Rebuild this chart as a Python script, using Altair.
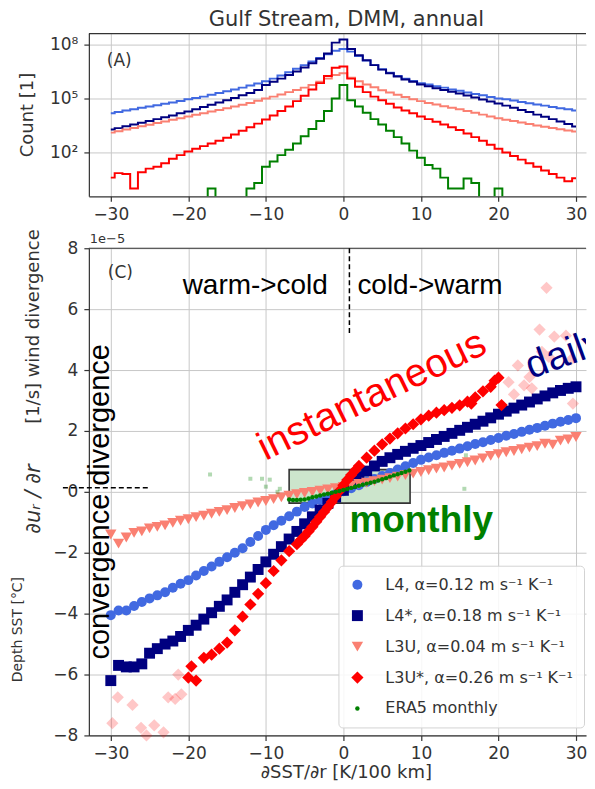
import altair as alt
import pandas as pd

# ---------------- data: panel (A) histograms (log10 of counts), bins -30..30 ----------------
HX = list(range(-30, 31))
hist_L4 = [4.17, 4.25, 4.33, 4.40, 4.48, 4.55, 4.62, 4.70, 4.78, 4.86,
           4.95, 5.03, 5.10, 5.20, 5.30, 5.40, 5.50, 5.60, 5.72, 5.83,
           5.95, 6.10, 6.28, 6.45, 6.65, 6.85, 7.05, 7.25, 7.45, 7.65,
           7.75,
           7.60, 7.35, 7.10, 6.85, 6.62, 6.42, 6.25, 6.10, 5.97, 5.85,
           5.77, 5.68, 5.60, 5.50, 5.42, 5.33, 5.25, 5.17, 5.08, 5.00,
           4.95, 4.88, 4.80, 4.73, 4.66, 4.60, 4.52, 4.46, 4.40, 4.33]
hist_L4s = [3.28, 3.35, 3.45, 3.55, 3.65, 3.75, 3.85, 3.95, 4.05, 4.17,
            4.28, 4.40, 4.52, 4.65, 4.78, 4.90, 5.03, 5.17, 5.30, 5.47,
            5.75, 5.92, 6.10, 6.30, 6.50, 6.72, 6.95, 7.20, 7.50, 8.10,
            8.28,
            7.75, 7.40, 7.12, 6.85, 6.60, 6.40, 6.22, 6.05, 5.92, 5.78,
            5.68, 5.57, 5.47, 5.37, 5.27, 5.16, 5.05, 4.94, 4.83, 4.72,
            4.60, 4.48, 4.36, 4.24, 4.10, 3.98, 3.85, 3.72, 3.58, 3.44]
hist_L3U = [3.10, 3.18, 3.27, 3.36, 3.45, 3.54, 3.63, 3.72, 3.81, 3.90,
            4.00, 4.09, 4.18, 4.27, 4.36, 4.45, 4.55, 4.65, 4.75, 4.87,
            5.00, 5.10, 5.22, 5.35, 5.47, 5.60, 5.75, 5.92, 6.10, 6.30,
            6.40,
            6.15, 5.95, 5.78, 5.62, 5.45, 5.33, 5.20, 5.08, 4.96, 4.85,
            4.75, 4.66, 4.57, 4.48, 4.40, 4.30, 4.20, 4.10, 4.00, 3.90,
            3.82, 3.74, 3.66, 3.58, 3.50, 3.43, 3.36, 3.29, 3.22, 3.16]
hist_L3Us = [0.60, 0.85, 0.80, 0.00, 0.90, 1.10, 1.20, 1.40, 1.65, 1.85,
             2.05, 2.20, 2.35, 2.50, 2.65, 2.82, 3.00, 3.20, 3.40, 3.60,
             3.83, 4.05, 4.30, 4.55, 4.85, 5.15, 5.50, 5.85, 6.25, 6.70,
             6.78,
             6.10, 5.65, 5.35, 5.10, 4.90, 4.70, 4.50, 4.33, 4.17, 4.00,
             3.85, 3.70, 3.55, 3.40, 3.25, 3.05, 2.85, 2.65, 2.42, 2.20,
             2.00, 1.80, 1.60, 1.40, 1.20, 1.00, 0.80, 0.60, 0.40, 0.56]
hist_ERA5 = [None, None, None, None, None, None, None, None, None, None,
             None, None, None, 0.00, None, None, None, None, 0.00, 0.30,
             1.20, 1.50, 1.85, 2.15, 2.50, 2.90, 3.30, 3.75, 4.30, 5.00,
             5.75,
             4.90, 4.55, 4.20, 3.85, 3.55, 3.20, 2.85, 2.50, 2.10, 1.70,
             1.30, 1.10, 0.60, 0.00, 0.00, 0.55, 0.30, None, None, 0.00,
             None, None, None, None, None, None, None, None, None, None]

# ---------------- data: panel (C) binned wind divergence (units of 1e-5 1/s) ----------------
SX = list(range(-30, 31))
div_L4 = [-4.05, -3.90, -3.90, -3.75, -3.62, -3.50, -3.40, -3.30, -3.15, -3.02,
          -2.90, -2.75, -2.60, -2.45, -2.30, -2.15, -2.00, -1.85, -1.65, -1.45,
          -1.25, -1.10, -0.95, -0.80, -0.65, -0.50, -0.38, -0.27, -0.17, -0.07,
          0.02,
          0.12, 0.22, 0.32, 0.42, 0.52, 0.62, 0.73, 0.84, 0.95, 1.05,
          1.13, 1.20, 1.28, 1.35, 1.42, 1.50, 1.57, 1.63, 1.70, 1.77,
          1.84, 1.90, 1.97, 2.04, 2.10, 2.17, 2.24, 2.30, 2.36, 2.42]
div_L4s = [-6.20, -5.70, -5.75, -5.75, -5.65, -5.30, -5.15, -5.00, -4.90, -4.75,
           -4.55, -4.38, -4.18, -3.97, -3.76, -3.55, -3.30, -3.05, -2.80, -2.55,
           -2.30, -2.05, -1.80, -1.55, -1.30, -1.05, -0.82, -0.60, -0.38, -0.17,
           0.05,
           0.28, 0.50, 0.68, 0.85, 1.00, 1.12, 1.23, 1.33, 1.43, 1.52,
           1.62, 1.72, 1.82, 1.92, 2.02, 2.12, 2.22, 2.32, 2.43, 2.55,
           2.65, 2.75, 2.85, 2.95, 3.05, 3.15, 3.25, 3.33, 3.40, 3.45]
div_L3U = [-1.40, -1.70, -1.50, -1.35, -1.30, -1.20, -1.15, -1.10, -1.02, -0.95,
           -0.90, -0.83, -0.78, -0.72, -0.66, -0.60, -0.53, -0.47, -0.41, -0.35,
           -0.30, -0.24, -0.18, -0.13, -0.08, -0.04, 0.00, 0.04, 0.08, 0.12,
           0.16,
           0.21, 0.26, 0.30, 0.35, 0.40, 0.45, 0.50, 0.55, 0.60, 0.65,
           0.71, 0.76, 0.80, 0.86, 0.92, 0.97, 1.03, 1.10, 1.18, 1.24,
           1.30, 1.34, 1.40, 1.45, 1.50, 1.58, 1.55, 1.68, 1.72, 1.80]
red_x = [-20, -19.6, -19, -18, -17, -16, -15, -14, -13, -12,
         -11, -10, -9, -8, -7, -6, -5.5, -5, -4.5, -4,
         -3.5, -3, -2.5, -2, -1.5, -1, -0.5, 0, 0.5, 1,
         1.5, 2, 3, 4, 5, 6, 7, 8, 9, 10,
         11, 12, 13, 14, 15, 16, 16.5, 17, 18, 19, 19.5, 20, 20.4]
red_y = [-6.10, -5.73, -6.20, -5.45, -5.35, -5.15, -4.95, -4.55, -4.10, -3.70,
         -3.35, -3.00, -2.60, -2.25, -1.95, -1.72, -1.58, -1.45, -1.30, -1.15,
         -0.98, -0.82, -0.66, -0.50, -0.33, -0.15, 0.03, 0.22, 0.39, 0.55,
         0.70, 0.85, 1.12, 1.35, 1.56, 1.75, 1.92, 2.08, 2.22, 2.38,
         2.50, 2.60, 2.68, 2.76, 2.84, 2.96, 2.90, 3.10, 3.30, 3.45, 3.65, 3.75, 2.85]
era5_x = [-7.0, -6.5, -6.0, -5.5, -5.0, -4.5, -4.0, -3.5, -3.0, -2.5, -2.0, -1.5, -1.0, -0.5,
          0.0, 0.5, 1.0, 1.5, 2.0, 2.5, 3.0, 3.5, 4.0, 4.5, 5.0, 5.5, 6.0, 6.5, 7.0, 7.5, 8.0, 8.5]
era5_y = [-0.25, -0.27, -0.27, -0.26, -0.25, -0.22, -0.18, -0.15, -0.12, -0.09, -0.06, -0.03, 0.00, 0.03,
          0.06, 0.09, 0.13, 0.17, 0.20, 0.23, 0.27, 0.30, 0.33, 0.37, 0.41, 0.45, 0.50, 0.54, 0.58, 0.62, 0.66, 0.70]
faint_red_x = [-29.8, -29.1, -27.2, -26.1, -25.4, -24.4, -23.2, -22.6, -21.7, -20.9, -21.3,
               21.3, 22.0, 22.5, 23.3, 24.0, 24.3, 25.3, 25.6, 26.2, 26.5, 27.2, 28.7, 29.4, 29.6]
faint_red_y = [-7.60, -6.75, -7.00, -7.75, -8.00, -7.67, -7.90, -6.75, -6.80, -6.65, -6.00,
               3.60, 3.20, 4.15, 3.50, 3.77, 3.40, 5.33, 4.60, 6.70, 4.43, 5.10, 5.13, 4.35, 2.90]
faint_era5_x = [-17.2, -12.0, -10.5, -10.0, -9.5, -8.5, -8.2, 15.6, 15.8]
faint_era5_y = [0.57, 0.43, 0.43, 0.17, 0.40, 0.00, 0.10, 0.10, 1.20]
box_x = [-7.0, 8.6]
box_y = [-0.37, 0.73]

SERIES = ["L4, α=0.12 m s⁻¹ K⁻¹", "L4*, α=0.18 m s⁻¹ K⁻¹", "L3U, α=0.04 m s⁻¹ K⁻¹",
          "L3U*, α=0.26 m s⁻¹ K⁻¹", "ERA5 monthly"]
COLORS = ["#4169e1", "#000080", "#fa8072", "#ff0000", "#008000"]
SHAPES = ["circle", "square", "triangle-down", "diamond", "circle"]
SIZES = [100, 120, 130, 150, 20]

# ---------------- layout ----------------
W = 498
H_TOP = 163
H_BOT = 488
SPACING = 52
X_DOMAIN = [-32.83, 31.29]
TXT = "#333333"
FONT = "DejaVu Sans"
SANS = "Liberation Sans"
TICKS_X = [-30, -20, -10, 0, 10, 20, 30]

xscale = alt.Scale(domain=X_DOMAIN, nice=False, zero=False)
axis_style = dict(title=None, labelFont=FONT, labelFontSize=17, labelColor=TXT,
                  tickColor=TXT, tickSize=5, tickWidth=1.2, domainColor=TXT, domainWidth=1.2,
                  gridColor="#c8c8c8", gridWidth=1, labelPadding=5)
xaxis = alt.Axis(values=TICKS_X, format="d", **axis_style)


def text_layer(txt, x, y, **kw):
    return alt.Chart(pd.DataFrame({"t": [txt]})).mark_text(**kw).encode(
        text="t:N", x=alt.value(x), y=alt.value(y))


def top_rule():
    return alt.Chart(pd.DataFrame({"a": [0]})).mark_rule(color=TXT, strokeWidth=1.2).encode(
        x=alt.value(0), x2=alt.value(W), y=alt.value(0))


# ---------------- panel (A) ----------------
yscale_top = alt.Scale(type="log", domain=[10 ** -0.44, 10 ** 8.6], nice=False)
yaxis_top = alt.Axis(values=[1e2, 1e5, 1e8],
                     labelExpr="datum.value > 1e7 ? '10⁸' : (datum.value > 1e4 ? '10⁵' : '10²')",
                     labelPadding=6, **{k: v for k, v in axis_style.items() if k != "labelPadding"})

top_layers = []
for vals, col in zip([hist_L4, hist_L4s, hist_L3U, hist_L3Us, hist_ERA5], COLORS):
    df = pd.DataFrame({"x": HX, "count": [10 ** v if v is not None else 1e-3 for v in vals]})
    top_layers.append(
        alt.Chart(df).mark_line(interpolate="step", clip=True, strokeWidth=2, color=col).encode(
            x=alt.X("x:Q", scale=xscale, axis=xaxis),
            y=alt.Y("count:Q", scale=yscale_top, axis=yaxis_top)))

top_layers += [
    top_rule(),
    text_layer("(A)", 18, 27, font=FONT, fontSize=17, color=TXT, align="left", baseline="middle"),
    text_layer("Gulf Stream, DMM, annual", 258, -8, font=FONT, fontSize=21, color=TXT,
               align="center", baseline="alphabetic"),
    text_layer("Count [1]", -61, H_TOP / 2, font=FONT, fontSize=18, color=TXT, angle=270,
               align="center", baseline="middle"),
]
top = alt.layer(*top_layers).properties(width=W, height=H_TOP)

# ---------------- panel (C) ----------------
yscale_bot = alt.Scale(domain=[-8, 8], nice=False, zero=False)
yaxis_bot = alt.Axis(values=[-8, -6, -4, -2, 0, 2, 4, 6, 8], format="d", labelPadding=6,
                     **{k: v for k, v in axis_style.items() if k != "labelPadding"})

rows = []
for name, xs, ys in zip(SERIES, [SX, SX, SX, red_x, era5_x],
                        [div_L4, div_L4s, div_L3U, red_y, era5_y]):
    for a, b in zip(xs, ys):
        rows.append({"x": a, "y": b, "series": name})
scat_df = pd.DataFrame(rows)

# legend position is measured from the origin of the top panel (shared legend of the concat)
legend = alt.Legend(title=None, orient="none", legendX=250, legendY=H_TOP + SPACING + 318,
                    labelFont=FONT, labelFontSize=16, labelColor=TXT, labelLimit=400,
                    rowPadding=15, padding=11, labelOffset=20,
                    fillColor="rgba(255,255,255,0.85)", strokeColor="#d3d3d3", cornerRadius=4,
                    symbolOpacity=1, symbolStrokeWidth=0)

box = alt.Chart(pd.DataFrame({"x0": [box_x[0]], "x1": [box_x[1]], "y0": [box_y[0]], "y1": [box_y[1]]})).mark_rect(
    fill="#cce5cc", stroke="#333333", strokeWidth=1.6).encode(
    x=alt.X("x0:Q", scale=xscale, axis=xaxis), x2="x1:Q",
    y=alt.Y("y0:Q", scale=yscale_bot, axis=yaxis_bot), y2="y1:Q")

scatter = alt.Chart(scat_df).mark_point(filled=True, opacity=1, strokeWidth=0).encode(
    x=alt.X("x:Q", scale=xscale, axis=xaxis),
    y=alt.Y("y:Q", scale=yscale_bot, axis=yaxis_bot),
    color=alt.Color("series:N", scale=alt.Scale(domain=SERIES, range=COLORS), legend=legend),
    shape=alt.Shape("series:N", scale=alt.Scale(domain=SERIES, range=SHAPES), legend=legend),
    size=alt.Size("series:N", scale=alt.Scale(type="ordinal", domain=SERIES, range=SIZES), legend=legend),
)

faint_red = alt.Chart(pd.DataFrame({"x": faint_red_x, "y": faint_red_y})).mark_point(
    filled=True, shape="diamond", size=150, color="#ff0000", opacity=0.22, strokeWidth=0).encode(
    x=alt.X("x:Q", scale=xscale), y=alt.Y("y:Q", scale=yscale_bot))
faint_green = alt.Chart(pd.DataFrame({"x": faint_era5_x, "y": faint_era5_y})).mark_point(
    filled=True, shape="square", size=16, color="#008000", opacity=0.3, strokeWidth=0).encode(
    x=alt.X("x:Q", scale=xscale), y=alt.Y("y:Q", scale=yscale_bot))

vdash = alt.Chart(pd.DataFrame({"a": [0]})).mark_rule(color="black", strokeWidth=1.5, strokeDash=[5, 3]).encode(
    x=alt.value(261), y=alt.value(0), y2=alt.value(86))
hdash = alt.Chart(pd.DataFrame({"a": [0]})).mark_rule(color="black", strokeWidth=1.5, strokeDash=[5, 3]).encode(
    x=alt.value(-26), x2=alt.value(59), y=alt.value(240))
# invisible spacer that keeps the left margin equal to the original figure's
spacer = alt.Chart(pd.DataFrame({"a": [0]})).mark_rule(opacity=0).encode(
    x=alt.value(-81), y=alt.value(300), y2=alt.value(301))

bot_layers = [
    box, scatter, faint_red, faint_green, top_rule(), vdash, hdash, spacer,
    text_layer("1e−5", 1, -9, font=FONT, fontSize=13, color=TXT, align="left", baseline="middle"),
    text_layer("(C)", 19, 25, font=FONT, fontSize=17, color=TXT, align="left", baseline="middle"),
    text_layer("warm->cold", 94, 46, font=SANS, fontSize=28, color="black", align="left", baseline="alphabetic"),
    text_layer("cold->warm", 269, 46, font=SANS, fontSize=28, color="black", align="left", baseline="alphabetic"),
    text_layer("convergence  divergence", 11, 254, font=SANS, fontSize=29, color="black", angle=270,
               align="center", baseline="middle"),
    text_layer("instantaneous", 177, 213, font=SANS, fontSize=40, color="#ff0000", angle=334,
               align="left", baseline="alphabetic"),
    text_layer("daily", 443, 131, font=SANS, fontSize=39, color="#000080", angle=340,
               align="left", baseline="alphabetic", clip=True),
    text_layer("monthly", 261, 284, font=SANS, fontSize=37, fontWeight="bold", color="#008000",
               align="left", baseline="alphabetic"),
    text_layer("[1/s]  wind divergence", -55, -19, font=FONT, fontSize=18, color=TXT, angle=270,
               align="right", baseline="middle"),
    text_layer("∂uᵣ / ∂r", -55, 286, font=FONT, fontSize=21, fontStyle="italic", color=TXT, angle=270,
               align="left", baseline="middle"),
    text_layer("Depth SST [°C]", -71, 382, font=FONT, fontSize=14, color=TXT, angle=270,
               align="center", baseline="middle"),
    text_layer("∂SST/∂r [K/100 km]", 258, 531, font=FONT, fontSize=18, color=TXT,
               align="center", baseline="alphabetic"),
]
bottom = alt.layer(*bot_layers).properties(width=W, height=H_BOT)

chart = alt.vconcat(top, bottom, spacing=SPACING, bounds="flush").properties(padding=0).configure_view(stroke=None)

chart.save("out.html", embed_options={"renderer": "svg", "actions": False})
